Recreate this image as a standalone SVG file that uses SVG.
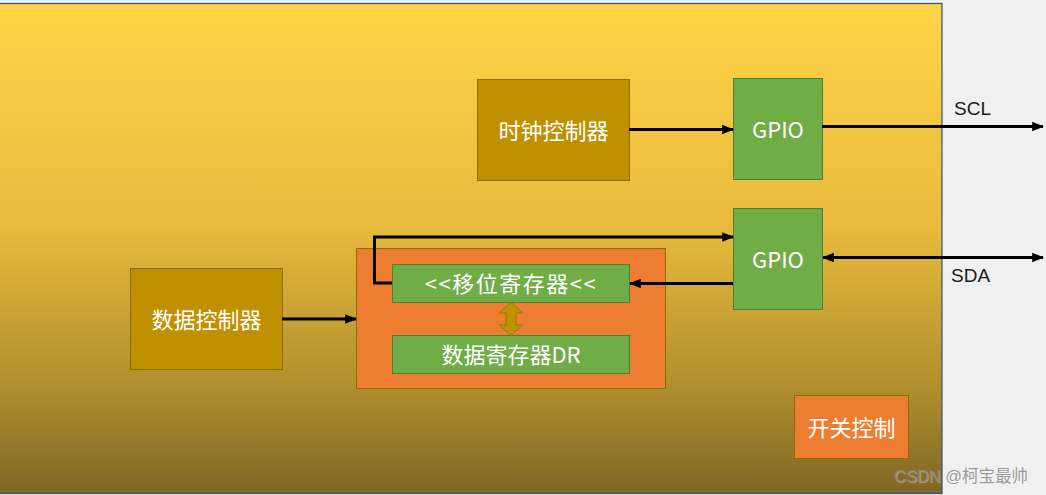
<svg xmlns="http://www.w3.org/2000/svg" width="1046" height="495" viewBox="0 0 1046 495">
<defs>
<linearGradient id="bg" x1="0" y1="0" x2="0" y2="1">
<stop offset="0" stop-color="#FFD446"/>
<stop offset="0.45" stop-color="#E8BB3C"/>
<stop offset="0.8" stop-color="#AD8C2D"/>
<stop offset="1" stop-color="#7E6625"/>
</linearGradient>
<marker id="ah" viewBox="0 0 10 10" refX="9" refY="5" markerWidth="4" markerHeight="4" orient="auto-start-reverse" markerUnits="strokeWidth">
<path d="M0,1 L10,5 L0,9 z" fill="#000"/>
</marker>
<style>
.ctl{fill:#BF9000;stroke:#8C6D00;stroke-width:1}
.grn{fill:#70AD47;stroke:#507E32;stroke-width:1}
.org{fill:#ED7D31;stroke:#8C6D00;stroke-width:1}
.t{font-family:"Noto Sans CJK SC","Noto Sans",sans-serif;font-size:22px;fill:#fff;text-anchor:middle;dominant-baseline:central}
.lbl{font-family:"Liberation Sans","Noto Sans",sans-serif;font-size:19px;fill:#1a1a1a}
.c{fill:none;stroke:#000;stroke-width:3}
</style>
</defs>
<rect width="1046" height="495" fill="#F0F0F0"/>
<rect id="board" x="-1" y="3.5" width="943" height="490" fill="url(#bg)" stroke="#2F528F" stroke-width="1.2"/>

<g id="clock-ctrl"><rect class="ctl" x="477.5" y="79.5" width="152" height="101"/><text class="t" x="553.5" y="129">时钟控制器</text></g>
<g id="gpio1"><rect class="grn" x="733.5" y="78.5" width="89" height="101"/><text class="t" x="778" y="128">GPIO</text></g>
<g id="gpio2"><rect class="grn" x="733.5" y="208.5" width="89" height="101"/><text class="t" x="778" y="258">GPIO</text></g>
<g id="data-ctrl"><rect class="ctl" x="130.5" y="268.5" width="152" height="101"/><text class="t" x="206.5" y="318">数据控制器</text></g>
<g id="container"><rect class="org" x="356.5" y="248.5" width="309" height="140"/></g>
<g id="shift-reg"><rect class="grn" x="392.5" y="264.5" width="237" height="38"/><text class="t" x="511" y="282" letter-spacing="1.5">&lt;&lt;移位寄存器&lt;&lt;</text></g>
<g id="data-reg"><rect class="grn" x="392.5" y="335.5" width="237" height="38"/><text class="t" x="511" y="353">数据寄存器DR</text></g>
<g id="switch"><rect class="org" x="794.5" y="395.5" width="114" height="63"/><text class="t" x="851.5" y="426">开关控制</text></g>

<g id="connectors">
<line class="c" x1="629" y1="129.5" x2="733" y2="129.5" marker-end="url(#ah)"/>
<line class="c" x1="822" y1="126.5" x2="1043" y2="126.5" marker-end="url(#ah)"/>
<line class="c" x1="823" y1="257.5" x2="1043" y2="257.5" marker-start="url(#ah)" marker-end="url(#ah)"/>
<line class="c" x1="733" y1="283.5" x2="630" y2="283.5" marker-end="url(#ah)"/>
<polyline class="c" points="392,283 374.5,283 374.5,237 733,237" marker-end="url(#ah)"/>
<line class="c" x1="282" y1="319" x2="356" y2="319" marker-end="url(#ah)"/>
<path d="M511,302.5 L523,313 L516,313 L516,325 L523,325 L511,335.5 L499,325 L506,325 L506,313 L499,313 Z" fill="#BF9000" stroke="#9C7A00" stroke-width="1"/>
</g>

<text class="lbl" x="954" y="115">SCL</text>
<text class="lbl" x="951" y="282">SDA</text>
<text x="894" y="482" font-family="Liberation Sans,'Noto Sans CJK SC',sans-serif" font-size="16.5" fill="#fff" fill-opacity="0.35" transform="translate(1,1)">CSDN @柯宝最帅</text>
<text x="894" y="482" font-family="Liberation Sans,'Noto Sans CJK SC',sans-serif" font-size="16.5" fill="#8a8a8a" fill-opacity="0.85">CSDN @柯宝最帅</text>
</svg>
